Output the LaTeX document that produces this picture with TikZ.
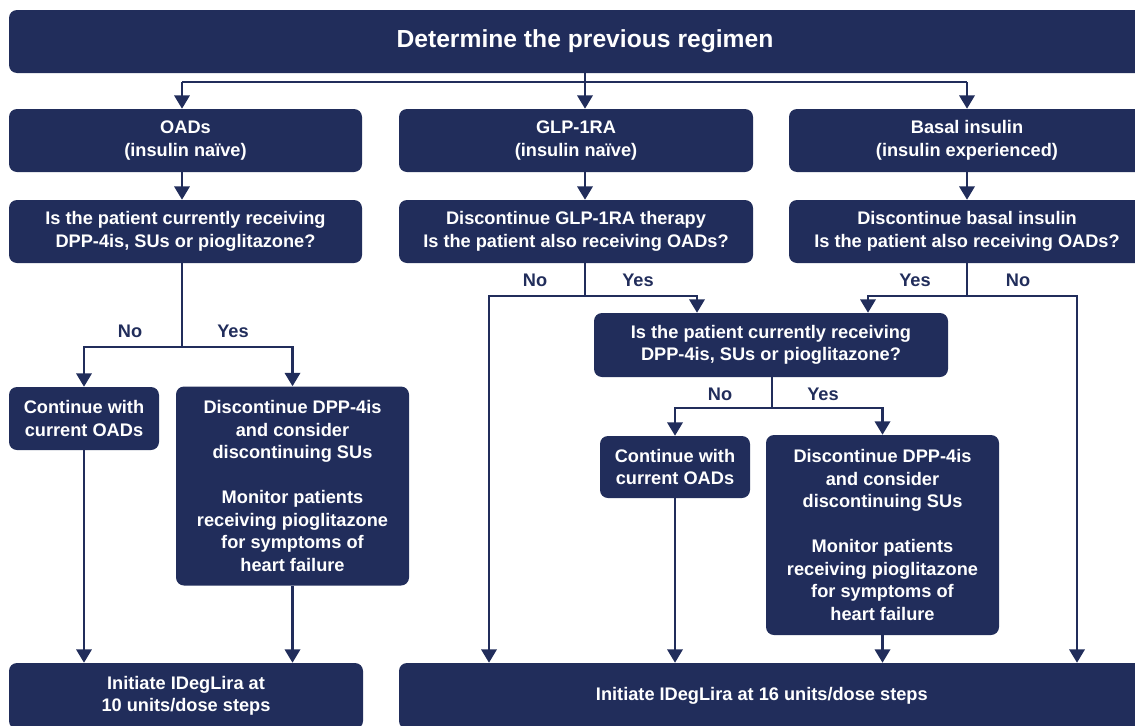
\documentclass[tikz,border=0pt]{standalone}
\usepackage{fontspec}
\setmainfont{Liberation Sans}
\usepackage{xcolor}
\usepackage{tikz}
\usetikzlibrary{arrows.meta}
\usetikzlibrary{positioning}
\definecolor{regimen}{RGB}{33,45,91}

\begin{document}
\begin{tikzpicture}[
x=0.75pt,y=-0.75pt,
MyBox/.style={fill=regimen,text=white,rounded corners=6pt,align=center,inner sep=0pt,
  font=\bfseries\fontsize{13.65pt}{16.9pt}\selectfont},
MyHead/.style={MyBox,font=\bfseries\fontsize{18.5pt}{22pt}\selectfont},
MyLabel/.style={text=regimen,inner sep=0pt,font=\bfseries\fontsize{13.65pt}{16.9pt}\selectfont},
Line/.style={draw=regimen,line width=1.8pt},
Flow/.style={Line,-{Triangle[length=10pt,width=11.5pt]}}
]
\useasboundingbox (0,0) rectangle (1135,725);
\clip (0,0) rectangle (1135,725);

% header and the three regimens
\node[MyHead,minimum width=864pt,minimum height=47.25pt] (head) at (585,41.5)
  {Determine the previous regimen};

\node[MyBox,minimum width=264.75pt,minimum height=47.25pt] (oads) at (185.5,140.5)
  {OADs\\(insulin naïve)};
\node[MyBox,minimum width=265.5pt,minimum height=47.25pt] (glp) at (576,140.5)
  {GLP-1RA\\(insulin naïve)};
\node[MyBox,minimum width=267pt,minimum height=47.25pt] (basal) at (967,140.5)
  {Basal insulin\\(insulin experienced)};

\node[MyBox,minimum width=264.75pt,minimum height=47.25pt] (q1) at (185.5,231.5)
  {Is the patient currently receiving\\DPP-4is, SUs or pioglitazone?};
\node[MyBox,minimum width=265.5pt,minimum height=47.25pt] (glpstop) at (576,231.5)
  {Discontinue GLP-1RA therapy\\Is the patient also receiving OADs?};
\node[MyBox,minimum width=267pt,minimum height=47.25pt] (basalstop) at (967,231.5)
  {Discontinue basal insulin\\Is the patient also receiving OADs?};

% left branch
\node[MyBox,minimum width=112.5pt,minimum height=47.25pt] (cont1) at (84,418.5)
  {Continue with\\current OADs};
\node[MyBox,minimum width=174.75pt,minimum height=149.25pt] (disc1) at (292.5,486)
  {Discontinue DPP-4is\\and consider\\discontinuing SUs\\[16.9pt]Monitor patients\\receiving pioglitazone\\for symptoms of\\heart failure};

% right branch
\node[MyBox,minimum width=265.5pt,minimum height=48pt] (q2) at (771,345)
  {Is the patient currently receiving\\DPP-4is, SUs or pioglitazone?};
\node[MyBox,minimum width=112.5pt,minimum height=46.5pt] (cont2) at (675,467)
  {Continue with\\current OADs};
\node[MyBox,minimum width=174.75pt,minimum height=150pt] (disc2) at (882.5,535)
  {Discontinue DPP-4is\\and consider\\discontinuing SUs\\[16.9pt]Monitor patients\\receiving pioglitazone\\for symptoms of\\heart failure};

% targets
\node[MyBox,minimum width=265.5pt,minimum height=49.5pt] (init1) at (186,696)
  {Initiate IDegLira at\\10 units/dose steps};
\node[MyBox,minimum width=563.25pt,minimum height=49.5pt] (init2) at (774.5,696)
  {Initiate IDegLira at 16 units/dose steps\hspace*{19pt}};

% fork points
\coordinate (splitL) at (182,82);
\coordinate (splitM) at (585,82);
\coordinate (splitR) at (967,82);
\coordinate (q1fork) at (182,347);
\coordinate (glpfork) at (585,296);
\coordinate (glpno) at (489,296);
\coordinate (glpyes) at (697,296);
\coordinate (basalfork) at (967,296);
\coordinate (basalyes) at (868,296);
\coordinate (basalno) at (1077,296);
\coordinate (q2fork) at (772,408);

\draw[Line] (splitL) -- (splitR);
\draw[Flow] (head.south -| splitM) -- (glp.north -| splitM);
\draw[Flow] (splitL) -- (oads.north -| splitL);
\draw[Flow] (splitR) -- (basal.north -| splitR);

\draw[Flow] (oads.south -| splitL) -- (q1.north -| splitL);
\draw[Flow] (glp.south -| splitM) -- (glpstop.north -| splitM);
\draw[Flow] (basal.south -| splitR) -- (basalstop.north -| splitR);

% OADs branch
\draw[Line] (q1.south -| q1fork) -- (q1fork);
\draw[Flow] (q1fork) -| (cont1);
\draw[Flow] (q1fork) -| (disc1);
\node[MyLabel] (q1no) at (130,331) {No};
\node[MyLabel] (q1yes) at (233,331) {Yes};
\draw[Flow] (cont1) -- (init1.north -| cont1);
\draw[Flow] (disc1) -- (init1.north -| disc1);

% GLP-1RA branch
\draw[Line] (glpstop.south -| glpfork) -- (glpfork);
\draw[Flow] (glpfork) -- (glpno) -- (init2.north -| glpno);
\draw[Flow] (glpfork) -- (glpyes) -- (q2.north -| glpyes);
\node[MyLabel] (glpnolab) at (535,280) {No};
\node[MyLabel] (glpyeslab) at (638,280) {Yes};

% basal insulin branch
\draw[Line] (basalstop.south -| basalfork) -- (basalfork);
\draw[Flow] (basalfork) -- (basalyes) -- (q2.north -| basalyes);
\draw[Flow] (basalfork) -- (basalno) -- (init2.north -| basalno);
\node[MyLabel] (basalyeslab) at (915,280) {Yes};
\node[MyLabel] (basalnolab) at (1018,280) {No};

% second question
\draw[Line] (q2.south -| q2fork) -- (q2fork);
\draw[Flow] (q2fork) -| (cont2);
\draw[Flow] (q2fork) -| (disc2);
\node[MyLabel] (q2no) at (720,394) {No};
\node[MyLabel] (q2yes) at (823,394) {Yes};
\draw[Flow] (cont2) -- (init2.north -| cont2);
\draw[Flow] (disc2) -- (init2.north -| disc2);

\end{tikzpicture}
\end{document}
